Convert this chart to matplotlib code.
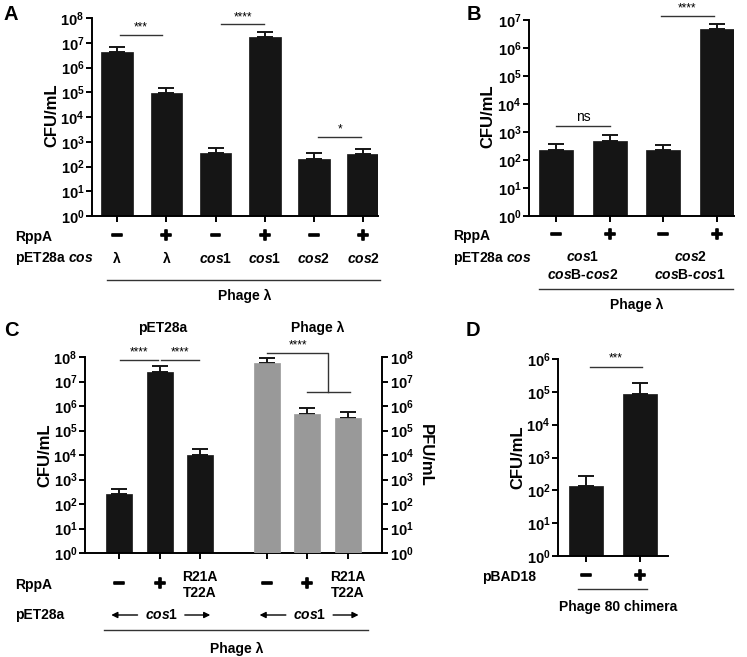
import numpy as np
import matplotlib
matplotlib.use("Agg")
import matplotlib.pyplot as plt
import matplotlib.patheffects as pe
from matplotlib.transforms import blended_transform_factory
from matplotlib.ticker import FixedLocator, FuncFormatter, NullLocator

plt.rcParams['font.family'] = ['Liberation Sans', 'DejaVu Sans']
plt.rcParams['font.weight'] = 'bold'
plt.rcParams['mathtext.fontset'] = 'custom'
plt.rcParams['mathtext.rm'] = 'Liberation Sans:bold'
plt.rcParams['mathtext.bf'] = 'Liberation Sans:bold'
plt.rcParams['mathtext.it'] = 'Liberation Sans:bold:italic'

# ---- data ----
# Panel A: CFU/mL, phage lambda with pET28a cos constructs
a_rppa = ['−', '+', '−', '+', '−', '+']
a_cos = ['λ', 'λ', r'$\mathit{cos}$1', r'$\mathit{cos}$1', r'$\mathit{cos}$2', r'$\mathit{cos}$2']
a_vals = [4.2e6, 9.2e4, 3.6e2, 1.7e7, 2.1e2, 3.2e2]
a_sem = [2.3e6, 6.3e4, 2.1e2, 9.0e6, 1.3e2, 1.8e2]

# Panel B
b_rppa = ['−', '+', '−', '+']
b_cos = [r'$\mathit{cos}$1' + '\n' + r'$\mathit{cos}$B-$\mathit{cos}$2',
         r'$\mathit{cos}$2' + '\n' + r'$\mathit{cos}$B-$\mathit{cos}$1']
b_vals = [2.3e2, 4.8e2, 2.2e2, 4.6e6]
b_sem = [1.4e2, 3.0e2, 1.3e2, 2.4e6]

# Panel C: CFU (black, left axis) and PFU (gray, right axis)
c_rppa = ['−', '+', 'R21A\nT22A', '−', '+', 'R21A\nT22A']
c_cfu = [2.5e2, 2.5e7, 1.0e4]
c_cfu_sem = [1.65e2, 1.9e7, 0.7e4]
c_pfu = [5.9e7, 4.9e5, 3.3e5]
c_pfu_sem = [3.1e7, 3.6e5, 2.3e5]

# Panel D
d_pbad = ['−', '+']
d_vals = [1.4e2, 8.7e4]
d_sem = [1.4e2, 9.3e4]

W, H = 747, 657
fig = plt.figure(figsize=(W / 100, H / 100), dpi=100)

BLACK = '#151515'
GRAY = '#999999'
LINE = '#333333'
TXT = 10
YLAB = 12


def rect(l, t, r, b):
    return [l / W, 1 - b / H, (r - l) / W, (b - t) / H]


def fy(py):
    return 1 - py / H


def fx(px):
    return px / W


def log_fmt(v, pos):
    return r'$10^{%d}$' % int(round(np.log10(v)))


def style_axis(ax, top_exp, right=False):
    ax.set_yscale('log')
    ax.set_ylim(1, 10 ** top_exp)
    ax.yaxis.set_major_locator(FixedLocator([10 ** k for k in range(top_exp + 1)]))
    ax.yaxis.set_minor_locator(NullLocator())
    ax.yaxis.set_major_formatter(FuncFormatter(log_fmt))
    for s in ['top', 'right', 'left', 'bottom']:
        ax.spines[s].set_visible(False)
    ax.spines['bottom'].set_visible(True)
    ax.spines['left' if not right else 'right'].set_visible(True)
    for s in ax.spines.values():
        s.set_linewidth(1.4)
    ax.tick_params(axis='y', direction='out', length=4, width=1.4, labelsize=10.5, pad=1.5)
    ax.tick_params(axis='x', direction='out', length=4, width=1.4, labelbottom=False)
    ax.patch.set_visible(False)


def bars(ax, x, vals, sem, color):
    ax.bar(x, vals, width=0.64, color=color, edgecolor=color, linewidth=0.5, zorder=2)
    ax.errorbar(x, vals, yerr=[np.zeros(len(vals)), sem], fmt='none', ecolor=BLACK,
                elinewidth=1.4, capsize=6, capthick=1.4, zorder=1)


def sig(ax, x0, x1, y, label, size=8.5):
    ax.plot([x0, x1], [y, y], color=LINE, lw=1.0, clip_on=False)
    ax.text((x0 + x1) / 2, y * 1.12, label, ha='center', va='bottom', fontsize=size,
            fontweight='normal', clip_on=False)


def row(ax, x, py, s, size=TXT, **kw):
    tr = blended_transform_factory(ax.transData, fig.transFigure)
    return ax.text(x, fy(py), s, transform=tr, ha='center', va='center', fontsize=size,
                   clip_on=False, **kw)


def hline(ax, x0, x1, py):
    tr = blended_transform_factory(ax.transData, fig.transFigure)
    ax.plot([x0, x1], [fy(py), fy(py)], transform=tr, color=LINE, lw=1.0, clip_on=False)


def pm(ax, x, py, s):
    if s in '−+':
        t = row(ax, x, py, s, size=14)
        t.set_path_effects([pe.withStroke(linewidth=1.2, foreground='black')])
    else:
        row(ax, x, py, s, size=TXT)


# ---------------- Panel A ----------------
axA = fig.add_axes(rect(92, 18, 378, 216))
xa = np.arange(len(a_vals))
bars(axA, xa, a_vals, a_sem, BLACK)
style_axis(axA, 8)
axA.set_xlim(-0.51, 5.3)
axA.set_xticks(xa)
sig(axA, 0.05, 0.92, 10 ** 7.31, '***')
sig(axA, 2.12, 2.99, 10 ** 7.75, '****')
sig(axA, 4.08, 4.96, 10 ** 3.2, '*')
for i in xa:
    pm(axA, i, 237, a_rppa[i])
    row(axA, i, 259, a_cos[i])
hline(axA, -0.2, 5.34, 280)
row(axA, 2.6, 296, 'Phage λ')
fig.text(fx(15), fy(237), 'RppA', ha='left', va='center', fontsize=TXT)
fig.text(fx(15), fy(259), r'pET28a $\mathit{cos}$', ha='left', va='center', fontsize=TXT)
fig.text(fx(52), fy(115), 'CFU/mL', rotation=90, ha='center', va='center', fontsize=YLAB)
fig.text(fx(11), fy(15), 'A', ha='center', va='center', fontsize=14.5)

# ---------------- Panel B ----------------
axB = fig.add_axes(rect(529, 20, 734, 216))
xb = np.arange(len(b_vals))
bars(axB, xb, b_vals, b_sem, BLACK)
style_axis(axB, 7)
axB.set_xlim(-0.51, 3.32)
axB.set_xticks(xb)
axB.plot([0, 1.0], [10 ** 3.22] * 2, color=LINE, lw=1.0)
axB.text(0.5, 10 ** 3.3, 'ns', ha='center', va='bottom', fontsize=10, fontweight='normal')
sig(axB, 1.96, 2.94, 10 ** 7.15, '****')
for i in xb:
    pm(axB, i, 236, b_rppa[i])
row(axB, 0.5, 266, b_cos[0], linespacing=1.3)
row(axB, 2.5, 266, b_cos[1], linespacing=1.3)
hline(axB, -0.33, 3.3, 289)
row(axB, 1.5, 305, 'Phage λ')
fig.text(fx(453), fy(236), 'RppA', ha='left', va='center', fontsize=TXT)
fig.text(fx(453), fy(259), r'pET28a $\mathit{cos}$', ha='left', va='center', fontsize=TXT)
fig.text(fx(488), fy(116), 'CFU/mL', rotation=90, ha='center', va='center', fontsize=YLAB)
fig.text(fx(474), fy(14), 'B', ha='center', va='center', fontsize=14.5)

# ---------------- Panel C ----------------
axC = fig.add_axes(rect(85, 357, 382, 553))
xc_cfu = np.arange(3)
xc_pfu = np.arange(3) + 3.65
xlimC = (-0.85, 6.5)
bars(axC, xc_cfu, c_cfu, c_cfu_sem, BLACK)
style_axis(axC, 8)
axC.set_xlim(*xlimC)
axC.set_xticks(list(xc_cfu) + list(xc_pfu))
axC2 = axC.twinx()
bars(axC2, xc_pfu, c_pfu, c_pfu_sem, GRAY)
style_axis(axC2, 8, right=True)
axC2.spines['bottom'].set_visible(False)
axC2.tick_params(axis='x', length=0)
axC2.set_xlim(*xlimC)
sig(axC, 0.02, 0.96, 10 ** 7.89, '****')
sig(axC, 1.04, 1.98, 10 ** 7.89, '****')
# bracket for phage lambda comparison
axC2.plot([3.65, 5.17, 5.17], [10 ** 8.16, 10 ** 8.16, 10 ** 6.57], color=LINE, lw=1.0,
          clip_on=False)
axC2.plot([4.64, 5.70], [10 ** 6.57] * 2, color=LINE, lw=1.0, clip_on=False)
axC2.text(4.43, 10 ** 8.22, '****', ha='center', va='bottom', fontsize=8.5, fontweight='normal',
          clip_on=False)
for i, x in enumerate(list(xc_cfu) + list(xc_pfu)):
    pm(axC, x, 585, c_rppa[i])
tr = blended_transform_factory(axC.transData, fig.transFigure)
for c in [1.05, 4.72]:
    row(axC, c, 615, r'$\mathit{cos}$1')
    for a, b in [(c - 0.6, c - 1.25), (c + 0.57, c + 1.2)]:
        axC.annotate('', xy=(b, fy(615)), xytext=(a, fy(615)), xycoords=tr, textcoords=tr,
                     arrowprops=dict(arrowstyle='-|>', color='black', lw=1.0,
                                     mutation_scale=9, shrinkA=0, shrinkB=0),
                     annotation_clip=False)
hline(axC, -0.38, 6.16, 630)
row(axC, 2.9, 649, 'Phage λ')
row(axC, 1.08, 328, 'pET28a')
row(axC, 4.92, 328, 'Phage λ')
fig.text(fx(15), fy(585), 'RppA', ha='left', va='center', fontsize=TXT)
fig.text(fx(15), fy(615), 'pET28a', ha='left', va='center', fontsize=TXT)
fig.text(fx(45), fy(455), 'CFU/mL', rotation=90, ha='center', va='center', fontsize=YLAB)
fig.text(fx(425), fy(455), 'PFU/mL', rotation=-90, ha='center', va='center', fontsize=YLAB)
fig.text(fx(11), fy(330), 'C', ha='center', va='center', fontsize=14.5)

# ---------------- Panel D ----------------
axD = fig.add_axes(rect(558, 359, 668, 556))
xd = np.arange(len(d_vals))
bars(axD, xd, d_vals, d_sem, BLACK)
style_axis(axD, 6)
axD.set_xlim(-0.52, 1.52)
axD.set_xticks(xd)
sig(axD, 0.07, 1.04, 10 ** 5.77, '***')
for i in xd:
    pm(axD, i, 577, d_pbad[i])
hline(axD, -0.15, 1.13, 589)
row(axD, 0.6, 607, 'Phage 80 chimera')
fig.text(fx(482), fy(577), 'pBAD18', ha='left', va='center', fontsize=TXT)
fig.text(fx(518), fy(457), 'CFU/mL', rotation=90, ha='center', va='center', fontsize=YLAB)
fig.text(fx(473), fy(330), 'D', ha='center', va='center', fontsize=14.5)

fig.savefig('out.png', dpi=100)
